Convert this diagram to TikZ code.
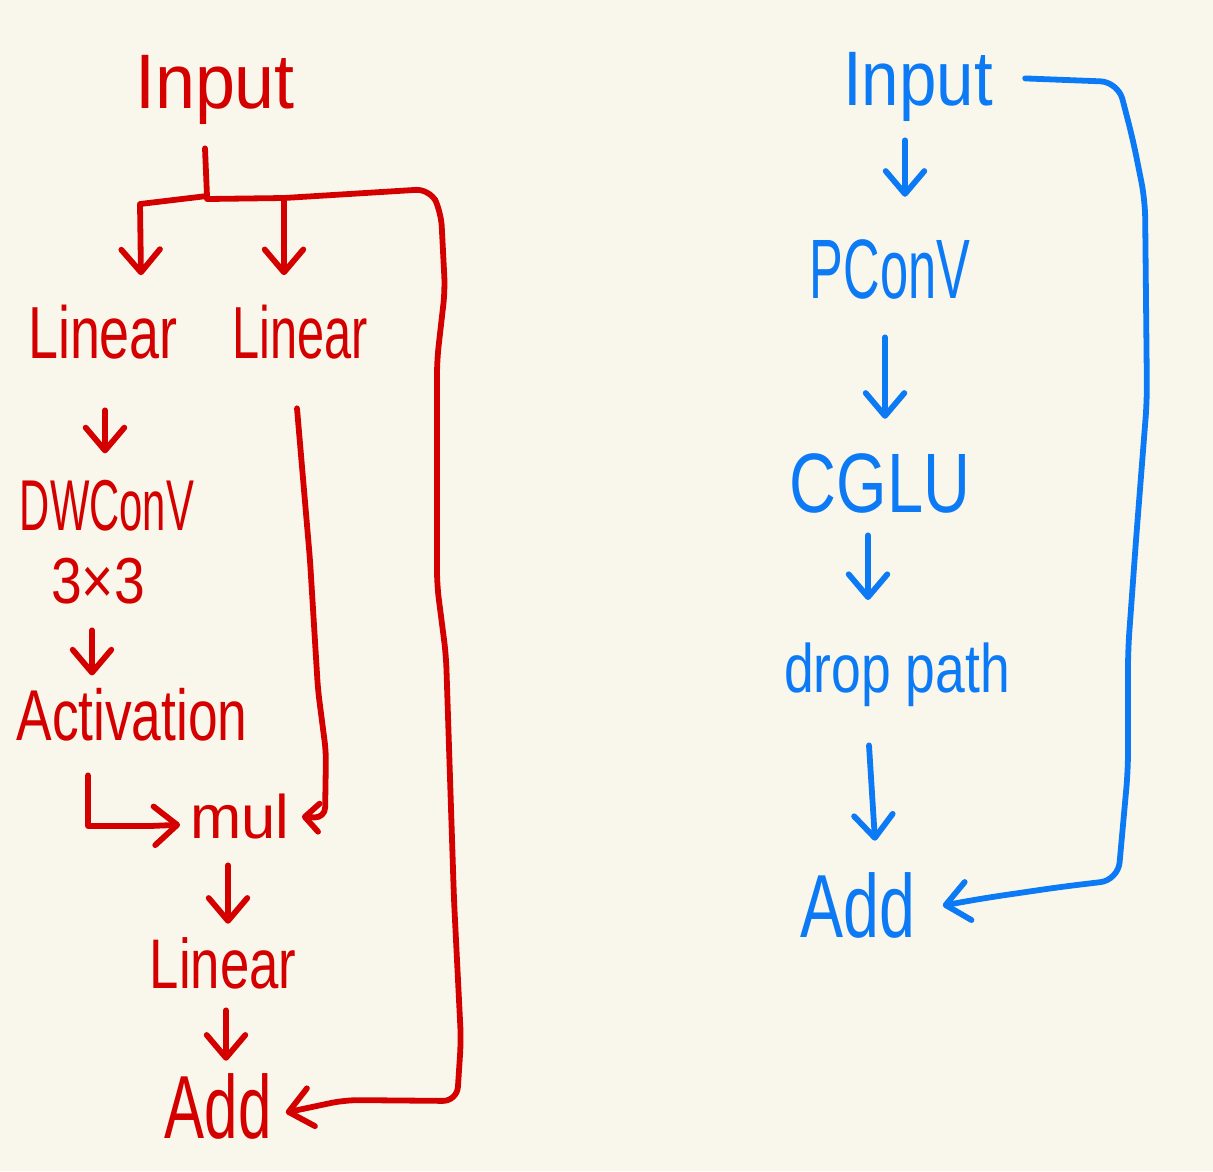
\documentclass[tikz,border=0pt]{standalone}
\usepackage{fontspec}
\setmainfont{Liberation Sans}
\usetikzlibrary{arrows.meta,calc}
\definecolor{bg}{RGB}{249,247,236}
\definecolor{hred}{RGB}{212,0,0}
\definecolor{hblue}{RGB}{12,122,245}
\newcommand\hw[3]{\fontsize{#1}{#1}\selectfont\scalebox{#2}[1]{#3}}
\begin{document}
\begin{tikzpicture}[x=0.02cm,y=-0.02cm,
  lab/.style={inner sep=0pt, anchor=base, text depth=0pt},
  redlab/.style={lab, text=hred},
  bluelab/.style={lab, text=hblue},
  ln/.style={line width=3.3pt, line cap=round, line join=round},
  arr/.style={ln, -{Straight Barb[length=13pt,width=22pt,round]}},
  smallarr/.style={ln, -{Straight Barb[length=8pt,width=16pt,round]}},
]
\fill[bg] (0,0) rectangle (1213,1171);
\useasboundingbox (0,0) rectangle (1213,1171);

% ---------- left (red) ----------
\node[redlab] (inL)  at (215,108)  {\hw{44}{0.93}{Input}};
\node[redlab] (linL) at (103,358)  {\hw{42}{0.73}{Linear}};
\node[redlab] (linR) at (300,358)  {\hw{42}{0.66}{Linear}};
\node[redlab] (dw)   at (107,530)  {\hw{41}{0.58}{DWConV}};
\node[redlab] (k3)   at (98,603)   {\hw{37}{0.85}{3×3}};
\node[redlab] (act)  at (132,740)  {\hw{41}{0.74}{Activation}};
\node[redlab] (mul)  at (240,838)  {\hw{35}{1}{mul}};
\node[redlab] (linB) at (223,988)  {\hw{40}{0.75}{Linear}};
\node[redlab] (addL) at (218,1138) {\hw{51}{0.67}{Add}};

\coordinate (jL) at (207,196);
\begin{scope}[hred]
\draw[ln] ($(inL.south)+(-10,40)$) -- (jL);
\draw[arr] (jL) -- (140,204) -- ($(linL.north)+(38,-29)$);
\draw[arr] ($(jL)+(0,3)$) -- (284,198) -- ($(linR.north)+(-16,-29)$);
\draw[arr, rounded corners=8] (284,198) -- (430,189) -- (441,212) -- (445,290)
  -- (437,360) -- (437,585) -- (446,655) -- (454,900) -- (461,1040)
  -- (457,1101) -- (345,1100) -- ($(addL.east)+(14,7)$);
\draw[arr] ($(linL.south)+(2,52)$) -- ($(dw.north)+(-2,-26)$);
\draw[arr] ($(k3.south)+(-6,27)$) -- ($(act.north)+(-40,-12)$);
\draw[arr] ($(act.south)+(-44,35)$) -- (88,826) -- (150,826) -- ($(mul.west)+(-10,9)$);
\draw[smallarr, rounded corners=6] ($(linR.south)+(-3,50)$) -- (310,560) -- (318,690)
  -- (326,752) -- (325,818) -- ($(mul.east)+(12,1)$);
\draw[arr] ($(mul.south)+(-12,27)$) -- ($(linB.north)+(5,-13)$);
\draw[arr] ($(linB.south)+(3,22)$) -- ($(addL.north)+(8,-12)$);
\end{scope}

% ---------- right (blue) ----------
\node[bluelab] (inR)  at (918,105) {\hw{44}{0.87}{Input}};
\node[bluelab] (pc)   at (890,298) {\hw{48}{0.6}{PConV}};
\node[bluelab] (cg)   at (880,512) {\hw{48}{0.77}{CGLU}};
\node[bluelab] (dp)   at (897,692) {\hw{39}{0.78}{drop path}};
\node[bluelab] (addR) at (858,937) {\hw{51}{0.72}{Add}};

\begin{scope}[hblue]
\draw[arr] ($(inR.south)+(-13,35)$) -- ($(pc.north)+(15,-42)$);
\draw[arr] ($(pc.south)+(-5,39)$) -- ($(cg.north)+(5,-34)$);
\draw[arr] ($(cg.south)+(-12,23)$) -- ($(dp.north)+(-29,-42)$);
\draw[arr] ($(dp.south)+(-28,53)$) -- ($(addR.north)+(17,-31)$);
\draw[arr, rounded corners=10] ($(inR.east)+(32,0)$) -- (1118,82) -- (1133,140)
  -- (1145,200) -- (1147,400) -- (1136,540) -- (1128,650) -- (1128,770)
  -- (1118,880) -- (1060,887) -- (985,898) -- ($(addR.east)+(27,1)$);
\end{scope}
\end{tikzpicture}
\end{document}
